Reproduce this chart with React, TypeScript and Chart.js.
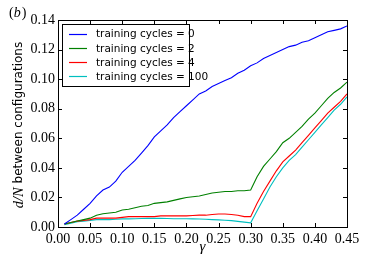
import React, { useEffect, useRef } from "react";
import { Chart, registerables } from "chart.js";

Chart.register(...registerables);

const gammas = [
  0.01, 0.02, 0.03, 0.04, 0.05, 0.06, 0.07, 0.08, 0.09, 0.1,
  0.11, 0.12, 0.13, 0.14, 0.15, 0.16, 0.17, 0.18, 0.19, 0.2,
  0.21, 0.22, 0.23, 0.24, 0.25, 0.26, 0.27, 0.28, 0.29, 0.3,
  0.31, 0.32, 0.33, 0.34, 0.35, 0.36, 0.37, 0.38, 0.39, 0.4,
  0.41, 0.42, 0.43, 0.44, 0.45,
];

const cycles0 = [
  0.002, 0.005, 0.008, 0.012, 0.016, 0.021, 0.025, 0.027, 0.031, 0.037,
  0.041, 0.045, 0.05, 0.055, 0.061, 0.065, 0.069, 0.074, 0.078, 0.082,
  0.086, 0.09, 0.092, 0.095, 0.097, 0.099, 0.101, 0.104, 0.106, 0.109,
  0.111, 0.114, 0.116, 0.118, 0.12, 0.122, 0.123, 0.125, 0.126, 0.128,
  0.13, 0.132, 0.133, 0.134, 0.136,
];

const cycles2 = [
  0.002, 0.003, 0.004, 0.005, 0.006, 0.008, 0.009, 0.0095, 0.01, 0.0115,
  0.012, 0.013, 0.014, 0.0145, 0.016, 0.0165, 0.017, 0.018, 0.019, 0.02,
  0.0205, 0.021, 0.022, 0.023, 0.0235, 0.024, 0.024, 0.0245, 0.0245, 0.025,
  0.034, 0.041, 0.046, 0.051, 0.057, 0.06, 0.064, 0.068, 0.073, 0.077,
  0.082, 0.087, 0.091, 0.094, 0.098,
];

const cycles4 = [
  0.002, 0.003, 0.004, 0.0045, 0.005, 0.006, 0.006, 0.006, 0.006, 0.0065,
  0.007, 0.007, 0.007, 0.007, 0.007, 0.0075, 0.0075, 0.0075, 0.0075, 0.0075,
  0.0078, 0.008, 0.008, 0.0085, 0.0088, 0.0088, 0.0085, 0.008, 0.007, 0.007,
  0.016, 0.024, 0.031, 0.038, 0.044, 0.048, 0.052, 0.057, 0.062, 0.067,
  0.072, 0.077, 0.081, 0.085, 0.09,
];

const cycles100 = [
  0.0015, 0.0025, 0.0035, 0.004, 0.0045, 0.005, 0.005, 0.005, 0.0052, 0.0055,
  0.0055, 0.0056, 0.0057, 0.0058, 0.0059, 0.0058, 0.0057, 0.0056, 0.0056, 0.0056,
  0.0055, 0.0054, 0.0052, 0.005, 0.0048, 0.0046, 0.0043, 0.0038, 0.0033, 0.0028,
  0.011, 0.019, 0.027, 0.034, 0.04, 0.045, 0.049, 0.054, 0.059, 0.064,
  0.069, 0.074, 0.079, 0.083, 0.088,
];

const seriesLabels = [
  "training cycles = 0",
  "training cycles = 2",
  "training cycles = 4",
  "training cycles = 100",
];
const seriesColors = ["#0000ff", "#008000", "#ff0000", "#00bfbf"];
const xTicks = [0, 0.05, 0.1, 0.15, 0.2, 0.25, 0.3, 0.35, 0.4, 0.45];
const yTicks = [0, 0.02, 0.04, 0.06, 0.08, 0.1, 0.12, 0.14];

const SERIF = "'Liberation Serif', 'DejaVu Serif', serif";
const SANS = "'DejaVu Sans', 'Liberation Sans', sans-serif";

const decorPlugin = {
  id: "decor",
  afterDraw(chart: any) {
    const ctx = chart.ctx as CanvasRenderingContext2D;
    const { left, right, top, bottom } = chart.chartArea;
    const xs = chart.scales.x;
    const ys = chart.scales.y;
    ctx.save();
    // frame
    ctx.strokeStyle = "#000";
    ctx.lineWidth = 1;
    ctx.strokeRect(Math.round(left) + 0.5, Math.round(top) + 0.5, Math.round(right - left), Math.round(bottom - top));
    // inward ticks
    ctx.beginPath();
    const tl = 4;
    xTicks.forEach((v) => {
      const px = Math.round(xs.getPixelForValue(v)) + 0.5;
      ctx.moveTo(px, bottom);
      ctx.lineTo(px, bottom - tl);
      ctx.moveTo(px, top);
      ctx.lineTo(px, top + tl);
    });
    yTicks.forEach((v) => {
      const py = Math.round(ys.getPixelForValue(v)) + 0.5;
      ctx.moveTo(left, py);
      ctx.lineTo(left + tl, py);
      ctx.moveTo(right, py);
      ctx.lineTo(right - tl, py);
    });
    ctx.stroke();

    // legend
    const lx = 62, ly = 24, lw = 127, lh = 62;
    ctx.fillStyle = "#fff";
    ctx.fillRect(lx, ly, lw, lh);
    ctx.strokeStyle = "#000";
    ctx.strokeRect(lx + 0.5, ly + 0.5, lw, lh);
    chart.data.datasets.forEach((ds: any, i: number) => {
      const y = ly + 9.5 + i * 14.3;
      ctx.strokeStyle = ds.borderColor;
      ctx.lineWidth = 1.2;
      ctx.beginPath();
      ctx.moveTo(69, Math.round(y) + 0.5);
      ctx.lineTo(87, Math.round(y) + 0.5);
      ctx.stroke();
      ctx.fillStyle = "#000";
      ctx.font = `10.5px ${SANS}`;
      ctx.textBaseline = "middle";
      ctx.textAlign = "left";
      ctx.fillText(ds.label, 96, y + 1);
    });

    // y title mixed font
    ctx.save();
    ctx.translate(19, 125);
    ctx.rotate(-Math.PI / 2);
    const part1 = "d/N";
    const part2 = " between configurations";
    ctx.font = `italic 14.5px ${SERIF}`;
    const w1 = ctx.measureText(part1).width;
    ctx.font = `12px ${SANS}`;
    const w2 = ctx.measureText(part2).width;
    const start = -(w1 + w2) / 2;
    ctx.fillStyle = "#000";
    ctx.textBaseline = "middle";
    ctx.textAlign = "left";
    ctx.font = `italic 14.5px ${SERIF}`;
    ctx.fillText(part1, start, 0);
    ctx.font = `12px ${SANS}`;
    ctx.fillText(part2, start + w1, 0);
    ctx.restore();

    // x title
    ctx.font = `italic 15px ${SERIF}`;
    ctx.textAlign = "center";
    ctx.textBaseline = "middle";
    ctx.fillStyle = "#000";
    ctx.fillText("γ", (left + right) / 2, 247);

    // panel tag
    ctx.textAlign = "left";
    ctx.font = `14px ${SERIF}`;
    const tx = 9, ty = 13;
    ctx.fillText("(", tx, ty);
    let w = ctx.measureText("(").width;
    ctx.font = `italic 14px ${SERIF}`;
    ctx.fillText("b", tx + w, ty);
    w += ctx.measureText("b").width;
    ctx.font = `14px ${SERIF}`;
    ctx.fillText(")", tx + w + 1, ty);
    ctx.restore();
  },
};

export default function App() {
  const ref = useRef<HTMLCanvasElement>(null);
  useEffect(() => {
    if (!ref.current) return;
    const all = [cycles0, cycles2, cycles4, cycles100];
    const chart = new Chart(ref.current, {
      type: "line",
      data: {
        datasets: all.map((arr, i) => ({
          label: seriesLabels[i],
          data: gammas.map((g, j) => ({ x: g, y: arr[j] })),
          borderColor: seriesColors[i],
          backgroundColor: seriesColors[i],
          borderWidth: 1.1,
          pointRadius: 0,
          tension: 0,
          fill: false,
        })),
      },
      options: {
        animation: false,
        responsive: false,
        maintainAspectRatio: false,
        layout: { padding: { top: 20, right: 27, left: 0, bottom: 0 } },
        plugins: { legend: { display: false }, tooltip: { enabled: false } },
        scales: {
          x: {
            type: "linear",
            min: 0,
            max: 0.45,
            afterFit: (s: any) => { s.height = 40; },
            afterBuildTicks: (s: any) => { s.ticks = xTicks.map((v) => ({ value: v })); },
            grid: { display: false, drawTicks: false },
            border: { display: false },
            ticks: {
              padding: 4,
              color: "#000",
              font: { family: SERIF, size: 14 },
              maxRotation: 0,
              autoSkip: false,
              callback: (v: any) => Number(v).toFixed(2),
            },
          },
          y: {
            type: "linear",
            min: 0,
            max: 0.14,
            afterFit: (s: any) => { s.width = 58; },
            afterBuildTicks: (s: any) => { s.ticks = yTicks.map((v) => ({ value: v })); },
            grid: { display: false, drawTicks: false },
            border: { display: false },
            ticks: {
              padding: 3,
              color: "#000",
              font: { family: SERIF, size: 14 },
              autoSkip: false,
              callback: (v: any) => Number(v).toFixed(2),
            },
          },
        },
      },
      plugins: [decorPlugin],
    });
    return () => chart.destroy();
  }, []);
  return (
    <div style={{ position: "fixed", left: 0, top: 0, width: 374, height: 267, background: "#fff" }}>
      <canvas ref={ref} width={374} height={267} style={{ display: "block", width: 374, height: 267 }} />
    </div>
  );
}
